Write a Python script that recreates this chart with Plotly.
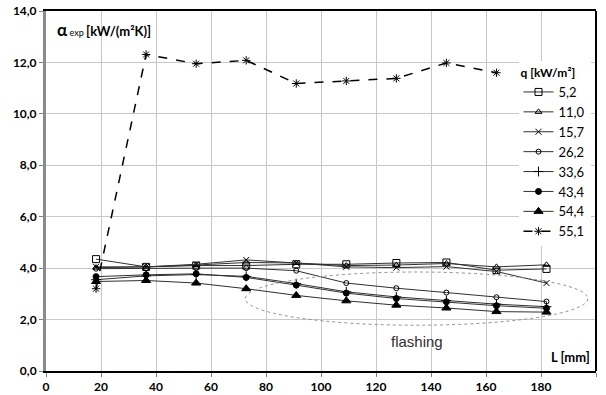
import plotly.graph_objects as go

L_mm = [18.2, 36.4, 54.6, 72.8, 91.0, 109.2, 127.4, 145.6, 163.8, 182.0]

q_labels = ["5,2", "11,0", "15,7", "26,2", "33,6", "43,4", "54,4", "55,1"]

alpha_5_2 = [4.35, 4.05, 4.10, 4.10, 4.15, 4.15, 4.20, 4.22, 3.92, 3.97]
alpha_11_0 = [4.02, 4.05, 4.12, 4.22, 4.20, 4.10, 4.12, 4.18, 4.05, 4.13]
alpha_15_7 = [4.05, 4.05, 4.15, 4.32, 4.20, 4.05, 4.02, 4.06, 3.87, 3.42]
alpha_26_2 = [3.98, 4.00, 4.00, 4.00, 3.90, 3.42, 3.22, 3.05, 2.87, 2.70]
alpha_33_6 = [3.55, 3.70, 3.75, 3.68, 3.40, 3.08, 2.88, 2.74, 2.60, 2.50]
alpha_43_4 = [3.67, 3.74, 3.78, 3.64, 3.34, 3.03, 2.82, 2.69, 2.54, 2.44]
alpha_54_4 = [3.48, 3.52, 3.42, 3.20, 2.94, 2.73, 2.56, 2.45, 2.31, 2.29]
alpha_55_1 = [3.20, 12.31, 11.95, 12.08, 11.18, 11.28, 11.38, 11.98, 11.60]
L_55_1 = L_mm[:9]

series = [
    (q_labels[0], L_mm, alpha_5_2, "square-open", 7, "solid"),
    (q_labels[1], L_mm, alpha_11_0, "triangle-up-open", 6, "solid"),
    (q_labels[2], L_mm, alpha_15_7, "x-thin-open", 6, "solid"),
    (q_labels[3], L_mm, alpha_26_2, "circle-open", 5, "solid"),
    (q_labels[4], L_mm, alpha_33_6, "cross-thin-open", 7, "solid"),
    (q_labels[5], L_mm, alpha_43_4, "circle", 6, "solid"),
    (q_labels[6], L_mm, alpha_54_4, "triangle-up", 8, "solid"),
    (q_labels[7], L_55_1, alpha_55_1, "asterisk-open", 7, "dash"),
]

fig = go.Figure()
for name, xs, ys, sym, size, dash in series:
    fig.add_trace(go.Scatter(
        x=xs, y=ys, name=name, mode="lines+markers",
        line=dict(color="#303030" if dash == "solid" else "#000000",
                  width=1 if dash == "solid" else 1.5, dash=dash),
        marker=dict(symbol=sym, size=size, color="#000000",
                    line=dict(color="#000000", width=1)),
    ))

fig.update_layout(
    width=606, height=395,
    margin=dict(l=46, r=10, t=11, b=24),
    paper_bgcolor="white", plot_bgcolor="white",
    separators=",.",
    font=dict(family="Lato, Liberation Sans, sans-serif", size=11, color="#000000"),
    showlegend=True,
    legend=dict(
        title=dict(text="<b>q [kW/m²]</b>", font=dict(size=12), side="top"),
        x=0.99, xanchor="right", y=0.86, yanchor="top",
        bgcolor="white", borderwidth=0,
        font=dict(size=13, family="Lato, Liberation Sans, sans-serif"),
        itemwidth=30, tracegroupgap=0,
    ),
    xaxis=dict(
        range=[0, 200], dtick=20, tick0=0, automargin=False,
        showgrid=True, gridcolor="#c8c8c8", gridwidth=1,
        showline=True, linecolor="#000000", linewidth=2, mirror=True,
        ticks="outside", ticklen=4, tickcolor="#808080",
        tickfont=dict(size=12, family="Lato, Liberation Sans, sans-serif"),
        tickprefix="<b>", ticksuffix="</b>",
        zeroline=False,
    ),
    yaxis=dict(
        range=[0, 14], dtick=2, tick0=0, tickformat=".1f", automargin=False,
        showgrid=True, gridcolor="#c8c8c8", gridwidth=1,
        showline=True, linecolor="#8a8a8a", linewidth=3, mirror=False,
        ticks="outside", ticklen=4, tickcolor="#808080",
        tickfont=dict(size=12, family="Lato, Liberation Sans, sans-serif"),
        tickprefix="<b>", ticksuffix="</b>",
        zeroline=False,
    ),
    shapes=[
        dict(type="line", xref="paper", yref="paper", x0=1, x1=1, y0=0, y1=1,
             line=dict(color="#000000", width=2)),
        dict(type="circle", xref="x", yref="y", x0=72.5, x1=197, y0=1.78, y1=3.85,
             line=dict(color="#909090", width=1, dash="dot")),
    ],
    annotations=[
        dict(text="<span style='font-size:17px'><b>α</b></span><span style='font-size:9px'> exp </span><b>[kW/(m²K)]</b>",
             xref="paper", yref="paper", x=0.016, y=0.95, xanchor="left", yanchor="middle",
             showarrow=False, font=dict(size=13, family="Lato, Liberation Sans, sans-serif")),
        dict(text="flashing", xref="x", yref="y", x=135, y=1.15,
             showarrow=False, font=dict(size=15, color="#303030",
                                        family="Liberation Sans, Arial, sans-serif")),
        dict(text="<b>L [mm]</b>", xref="paper", yref="paper", x=0.993, y=0.04,
             xanchor="right", yanchor="middle", showarrow=False,
             font=dict(size=13, family="Lato, Liberation Sans, sans-serif")),
    ],
)

fig.write_html("out.html", config={"displayModeBar": False},
               post_script="document.body.style.margin='0px';")
